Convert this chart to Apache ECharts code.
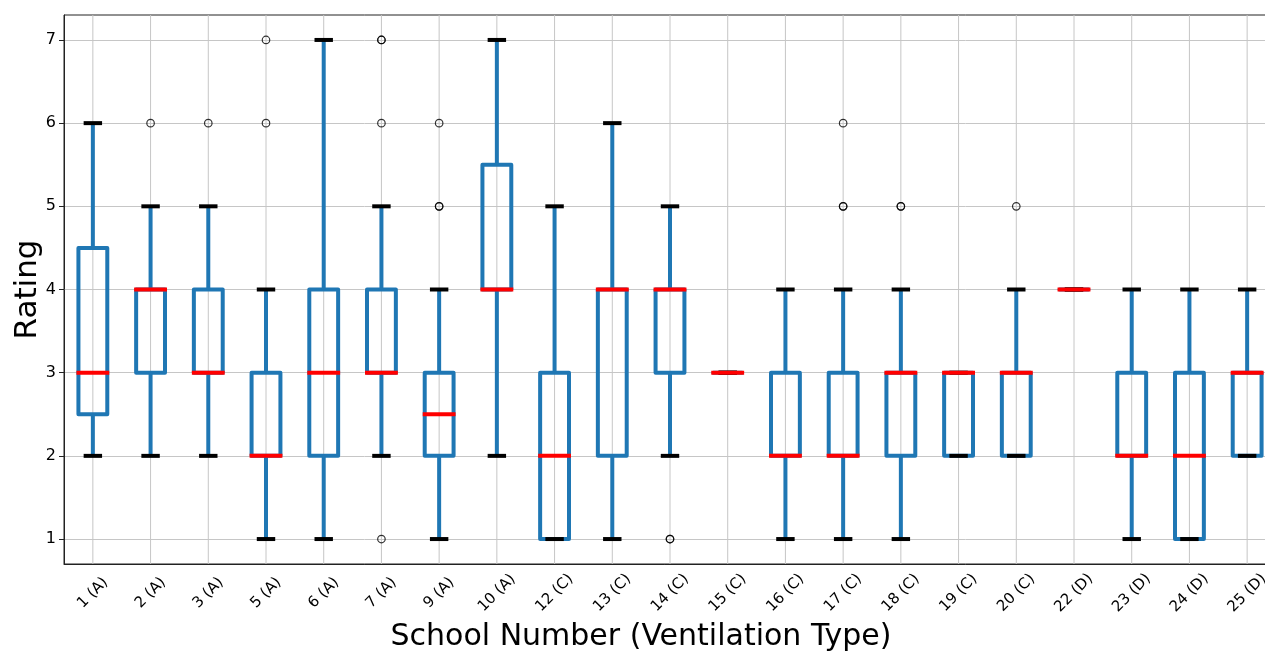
<!DOCTYPE html>
<html>
<head>
<meta charset="utf-8">
<script src="https://cdn.jsdelivr.net/npm/echarts@6/dist/echarts.min.js"></script>
<style>
html,body{margin:0;padding:0;background:#fff;}
#chart{width:1265px;height:655px;}
</style>
</head>
<body>
<div id="chart"></div>
<script>
// ---- data ----
const categories = ['1 (A)','2 (A)','3 (A)','5 (A)','6 (A)','7 (A)','9 (A)','10 (A)','12 (C)','13 (C)','14 (C)','15 (C)','16 (C)','17 (C)','18 (C)','19 (C)','20 (C)','22 (D)','23 (D)','24 (D)','25 (D)'];
const whiskerLow  = [2, 2, 2, 1, 1, 2, 1,   2, 1, 1, 2, 3, 1, 1, 1, 2, 2, 4, 1, 1, 2];
const quartile1   = [2.5,3, 3, 2, 2, 3, 2,   4, 1, 2, 3, 3, 2, 2, 2, 2, 2, 4, 2, 1, 2];
const medians     = [3, 4, 3, 2, 3, 3, 2.5, 4, 2, 4, 4, 3, 2, 2, 3, 3, 3, 4, 2, 2, 3];
const quartile3   = [4.5,4, 4, 3, 4, 4, 3, 5.5, 3, 4, 4, 3, 3, 3, 3, 3, 3, 4, 3, 3, 3];
const whiskerHigh = [6, 5, 5, 4, 7, 5, 4,   7, 5, 6, 5, 3, 4, 4, 4, 3, 4, 4, 4, 4, 4];

const outlierSchool = ['2 (A)','3 (A)','5 (A)','5 (A)','7 (A)','7 (A)','7 (A)','7 (A)','9 (A)','9 (A)','9 (A)','14 (C)','14 (C)','17 (C)','17 (C)','17 (C)','18 (C)','18 (C)','20 (C)'];
const outlierRating = [6, 6, 6, 7, 7, 7, 6, 1, 5, 5, 6, 1, 1, 6, 5, 5, 5, 5, 5];

const yTicks = [1, 2, 3, 4, 5, 6, 7];
const xTitle = 'School Number (Ventilation Type)';
const yTitle = 'Rating';

// ---- chart ----
const Y_MIN = 0.7, Y_MAX = 7.3;
const FONT = 'DejaVu Sans';
const BLUE = '#1f77b4', RED = '#ff0000', GRID = '#c6c6c6';

const boxData = categories.map((c, i) => [i, whiskerLow[i], quartile1[i], medians[i], quartile3[i], whiskerHigh[i]]);
const gridData = categories.map((c, i) => [i]);
const outlierData = outlierSchool.map((s, k) => [categories.indexOf(s), outlierRating[k]]);

function renderGridLine(params, api) {
  const p0 = api.coord([api.value(0), Y_MIN]);
  const p1 = api.coord([api.value(0), Y_MAX]);
  return {
    type: 'line',
    shape: { x1: p0[0], y1: p0[1], x2: p1[0], y2: p1[1] },
    style: { stroke: GRID, lineWidth: 1 }
  };
}

function renderBox(params, api) {
  const i = api.value(0);
  const band = api.size([1, 0])[0];
  const hw = band * 0.25, cw = band * 0.125;
  const x = api.coord([i, 0])[0];
  const yWl = api.coord([i, api.value(1)])[1];
  const yQ1 = api.coord([i, api.value(2)])[1];
  const yMed = api.coord([i, api.value(3)])[1];
  const yQ3 = api.coord([i, api.value(4)])[1];
  const yWh = api.coord([i, api.value(5)])[1];
  const lw = 4;
  return {
    type: 'group',
    children: [
      { type: 'polygon', shape: { points: [[x - hw, yQ1], [x + hw, yQ1], [x + hw, yQ3], [x - hw, yQ3]] },
        style: { fill: 'none', stroke: BLUE, lineWidth: lw, lineJoin: 'round' } },
      { type: 'line', shape: { x1: x, y1: yQ1, x2: x, y2: yWl }, style: { stroke: BLUE, lineWidth: lw } },
      { type: 'line', shape: { x1: x, y1: yQ3, x2: x, y2: yWh }, style: { stroke: BLUE, lineWidth: lw } },
      { type: 'line', shape: { x1: x - cw, y1: yWl, x2: x + cw, y2: yWl }, style: { stroke: '#000', lineWidth: lw, lineCap: 'square' } },
      { type: 'line', shape: { x1: x - cw, y1: yWh, x2: x + cw, y2: yWh }, style: { stroke: '#000', lineWidth: lw, lineCap: 'square' } },
      { type: 'line', shape: { x1: x - hw, y1: yMed, x2: x + hw, y2: yMed }, style: { stroke: RED, lineWidth: lw, lineCap: 'square' } }
    ]
  };
}

const chart = echarts.init(document.getElementById('chart'), null, { renderer: 'canvas' });
chart.setOption({
  animation: false,
  backgroundColor: '#fff',
  textStyle: { fontFamily: FONT },
  grid: { left: 64, top: 15, bottom: 91, right: -11, containLabel: false, outerBoundsMode: 'none',
          show: true, borderColor: '#222', borderWidth: 1, backgroundColor: 'transparent' },
  xAxis: {
    type: 'category',
    data: categories,
    boundaryGap: true,
    axisLine: { lineStyle: { color: '#222', width: 1 } },
    axisTick: { alignWithLabel: true, length: 5, lineStyle: { color: '#222', width: 1 } },
    splitLine: { show: false },
    axisLabel: { rotate: 45, align: 'center', verticalAlign: 'middle', margin: 29, fontSize: 15, color: '#000', fontFamily: FONT, interval: 0 },
    name: xTitle,
    nameLocation: 'middle',
    nameGap: 58,
    nameMoveOverlap: false,
    nameTextStyle: { fontSize: 30, color: '#000', fontFamily: FONT, padding: [0, 58, 0, 0] }
  },
  yAxis: {
    type: 'value',
    min: Y_MIN,
    max: Y_MAX,
    axisLine: { show: true, lineStyle: { color: '#222', width: 1 } },
    axisTick: { show: true, length: 5, lineStyle: { color: '#222', width: 1 }, customValues: yTicks },
    axisLabel: { fontSize: 16, color: '#000', fontFamily: FONT, margin: 8, customValues: yTicks },
    splitLine: { show: true, lineStyle: { color: GRID, width: 1 } },
    name: yTitle,
    nameLocation: 'middle',
    nameGap: 21,
    nameMoveOverlap: false,
    nameTextStyle: { fontSize: 31, color: '#000', fontFamily: FONT }
  },
  series: [
    { type: 'custom', name: 'grid', data: gridData, renderItem: renderGridLine, z: 1, silent: true, encode: { x: 0 } },
    { type: 'custom', name: 'boxes', data: boxData, renderItem: renderBox, z: 3, encode: { x: 0, y: [1, 2, 3, 4, 5] } },
    { type: 'scatter', name: 'outliers', data: outlierData, z: 4, symbol: 'circle', symbolSize: 7.5,
      itemStyle: { color: 'rgba(0,0,0,0)', borderColor: '#000', borderWidth: 1.2 } }
  ]
});
</script>
</body>
</html>
